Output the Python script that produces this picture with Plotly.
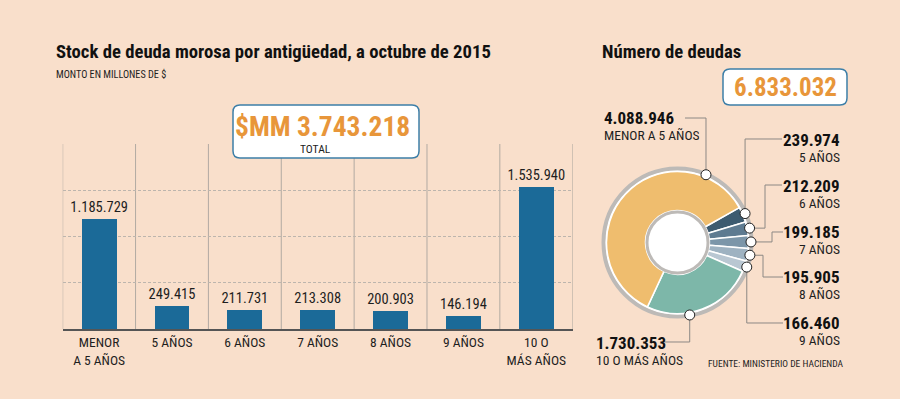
import math
import plotly.graph_objects as go

W, H = 900, 399

# ---------------- data ----------------
bar_categories = ["MENOR<br>A 5 AÑOS", "5 AÑOS", "6 AÑOS", "7 AÑOS", "8 AÑOS", "9 AÑOS", "10 O<br>MÁS AÑOS"]
bar_values = [1185729, 249415, 211731, 213308, 200903, 146194, 1535940]
bar_total_text = "3.743.218"
y_ticks = [0, 500000, 1000000, 1500000, 2000000]

pie_names = ["5 AÑOS", "6 AÑOS", "7 AÑOS", "8 AÑOS", "9 AÑOS", "10 O MÁS AÑOS", "MENOR A 5 AÑOS"]
pie_values = [239974, 212209, 199185, 195905, 166460, 1730353, 4088946]
pie_total_text = "6.833.032"

# ---------------- style ----------------
BG = "#f9dfcb"
BAR = "#1b6a98"
ORANGE = "#e8963a"
BOXLINE = "#3d7fa8"
pie_colors = ["#3d5b70", "#5e7b91", "#7c96a9", "#9eb2c1", "#b9c7d2", "#7db7a9", "#efbd6e"]
NARROW = "Roboto Condensed, sans-serif"
TXT = "#1e1e1e"


def px(x, y):
    return x / W, 1 - y / H


fig = go.Figure()

# bar chart
xpos = list(range(len(bar_values)))
fig.add_trace(go.Bar(
    x=xpos, y=bar_values, marker=dict(color=BAR, line=dict(width=0)), width=0.48,
    texttemplate="%{y:,.0f}", textposition="outside", cliponaxis=False, constraintext="none",
    textfont=dict(family=NARROW, size=14.5, color=TXT), hoverinfo="skip",
))

# pie chart geometry
cx, cy, r_col = 677.5, 242.5, 71
start_deg = 29.5
dx0, dy0 = px(cx - r_col, cy + r_col)
dx1, dy1 = px(cx + r_col, cy - r_col)
fig.add_trace(go.Pie(
    values=pie_values, labels=pie_names, sort=False, direction="clockwise",
    rotation=90 - start_deg, hole=0.45, textinfo="none", hoverinfo="skip",
    marker=dict(colors=pie_colors, line=dict(color="white", width=1.5)),
    domain=dict(x=[dx0, dx1], y=[dy0, dy1]), showlegend=False,
))

shapes = []
annotations = []

# vertical separators between categories
for i in range(len(bar_values) + 1):
    shapes.append(dict(type="line", xref="x", yref="y", x0=i - 0.5, x1=i - 0.5,
                       y0=0, y1=y_ticks[-1], line=dict(color="#b2aaa2", width=1), layer="below"))


def rrect(x0, y0, x1, y1, r):
    def P(x, y):
        a, b = px(x, y)
        return f"{a:.5f},{b:.5f}"
    path = (f"M {P(x0 + r, y0)} L {P(x1 - r, y0)} Q {P(x1, y0)} {P(x1, y0 + r)} "
            f"L {P(x1, y1 - r)} Q {P(x1, y1)} {P(x1 - r, y1)} L {P(x0 + r, y1)} "
            f"Q {P(x0, y1)} {P(x0, y1 - r)} L {P(x0, y0 + r)} Q {P(x0, y0)} {P(x0 + r, y0)} Z")
    return dict(type="path", xref="paper", yref="paper", path=path,
                fillcolor="white", line=dict(color=BOXLINE, width=1.5))


shapes.append(rrect(233, 105, 419, 158, 7))
shapes.append(rrect(723, 69, 847, 105, 7))


def circ(x, y, r, **kw):
    a0, b0 = px(x - r, y + r)
    a1, b1 = px(x + r, y - r)
    d = dict(type="circle", xref="paper", yref="paper", x0=a0, y0=b0, x1=a1, y1=b1)
    d.update(kw)
    return d


# outer ring + white gap (below pie), inner hole ring
shapes.append(circ(cx, cy, 74, fillcolor="white", line=dict(color="#bdbab7", width=4), layer="below"))
shapes.append(circ(cx, cy, 30.5, fillcolor="white", line=dict(color="#bdbab7", width=3)))

# dot anchors computed from data
anchor_frac = [0.5, 0.5, 0.5, 0.5, 0.5, 0.62, 0.825]
total = sum(pie_values)
ang = start_deg
dots = []
r_dot = 73.5
for v, f in zip(pie_values, anchor_frac):
    span = 360 * v / total
    a = math.radians(ang - f * span)
    dots.append((cx + r_dot * math.cos(a), cy - r_dot * math.sin(a)))
    ang -= span

# leader paths (layout) and label placement
leaders = [
    lambda d: [d, (d[0], 139), (782, 139)],
    lambda d: [d, (765, d[1]), (765, 185), (782, 185)],
    lambda d: [d, (772, d[1]), (772, 232), (783, 232)],
    lambda d: [d, (763, d[1]), (763, 277), (783, 277)],
    lambda d: [d, (d[0], 323), (783, 323)],
    lambda d: [d, (d[0], 342), (663, 342)],
    lambda d: [d, (d[0], 118), (685, 118)],
]
label_pos = [
    (841, 140, "right"), (841, 186, "right"), (841, 232, "right"), (841, 277, "right"),
    (841, 323, "right"), (595, 343, "left"), (603, 118, "left"),
]
LEAD = "#8c8884"
for d, lf in zip(dots, leaders):
    pts = lf(d)
    path = "M " + " L ".join("{:.5f},{:.5f}".format(*px(x, y)) for x, y in pts)
    shapes.append(dict(type="path", xref="paper", yref="paper", path=path,
                       line=dict(color=LEAD, width=1)))
for d in dots:
    shapes.append(circ(d[0], d[1], 5, fillcolor="white", line=dict(color="#222", width=1)))


def txt(x, y, text, size, color=TXT, anchor="left", h=None):
    a, b = px(x, y)
    d = dict(x=a, y=b, xref="paper", yref="paper", xanchor=anchor, yanchor="middle", borderpad=0,
             text=text, showarrow=False, font=dict(family=NARROW, size=size, color=color))
    if h:
        d["height"] = h
    annotations.append(d)


for name, v, (lx, ly, al) in zip(pie_names, pie_values, label_pos):
    txt(lx, ly, f"<b>{v:,}</b>".replace(",", "."), 17, "#111", al, h=16)
    txt(lx, ly + 16, name, 13.5, TXT, al, h=15)

txt(55, 52, "<b>Stock de deuda morosa por antigüedad, a octubre de 2015</b>", 18.7, "#111")
txt(55, 74, "MONTO EN MILLONES DE $", 10.2)
txt(601, 52, "<b>Número de deudas</b>", 18.7, "#111")
txt(322, 126, f"<b>$MM {bar_total_text}</b>", 27.5, ORANGE, "center", h=26)
txt(315, 148, "TOTAL", 11.5, TXT, "center", h=13)
txt(785, 87, f"<b>{pie_total_text}</b>", 25, ORANGE, "center")
txt(707, 363, "FUENTE: MINISTERIO DE HACIENDA", 9.5)

xd0, _ = px(62.7, 0)
xd1, _ = px(572.7, 0)
_, yd0 = px(0, 329.3)
_, yd1 = px(0, 144)

fig.update_layout(
    width=W, height=H, margin=dict(l=0, r=0, t=0, b=0),
    paper_bgcolor=BG, plot_bgcolor=BG, showlegend=False, separators=",.",
    shapes=shapes, annotations=annotations, bargap=0,
    xaxis=dict(domain=[xd0, xd1], range=[-0.5, len(bar_values) - 0.5], tickvals=xpos,
               ticktext=bar_categories, showgrid=False, zeroline=False, showline=True,
               linecolor="#555", linewidth=1.5, ticks="", fixedrange=True,
               tickfont=dict(family=NARROW, size=13.5, color=TXT)),
    yaxis=dict(domain=[yd0, yd1], range=[0, y_ticks[-1]], tickvals=y_ticks, showticklabels=False,
               showgrid=True, gridcolor="#bdb5ad", griddash="3px,2px", gridwidth=1,
               zeroline=False, fixedrange=True),
)

fig.write_html("out.html", config={"displayModeBar": False, "staticPlot": True}, post_script=(
    "document.body.style.margin='0';document.body.style.padding='0';"
    f"document.body.style.background='{BG}';"
))
